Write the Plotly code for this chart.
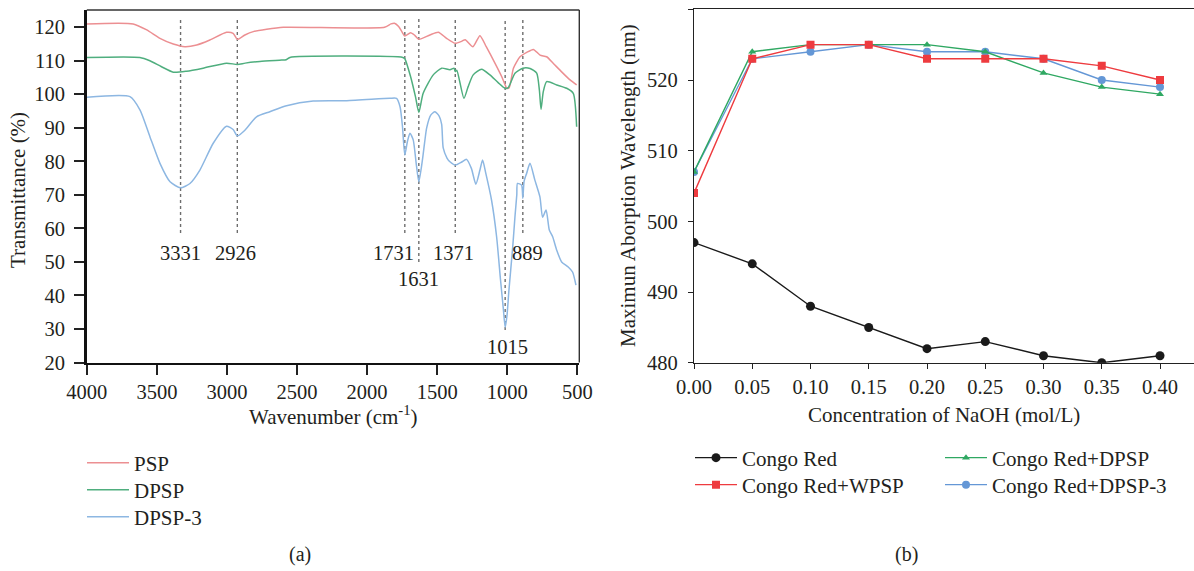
import plotly.graph_objects as go

# ---------------- (a) FTIR spectra ----------------
psp_wn = [4000, 3669, 3572, 3478, 3383, 3300, 3216, 3122, 3003, 2956, 2926, 2872, 2812, 2717,
          2598, 1876, 1830, 1805, 1775, 1752, 1731, 1690, 1660, 1631, 1552, 1492, 1433, 1371,
          1326, 1300, 1245, 1195, 1150, 1088, 1040, 1015, 1004, 986, 956, 909, 861, 814, 766,
          719, 671, 612, 552, 505]
psp_t = [121.0, 121.0, 119.2, 116.7, 115.0, 114.2, 114.7, 116.2, 118.5, 118.2, 116.4, 117.7, 118.7,
         119.4, 120.0, 120.0, 121.0, 121.2, 120.2, 118.7, 117.4, 118.4, 117.6, 116.4, 117.7, 118.5,
         116.7, 115.2, 115.8, 116.3, 114.2, 117.5, 114.2, 109.3, 105.3, 102.8, 101.8, 102.0, 107.8,
         111.2, 112.5, 113.4, 111.7, 111.2, 109.2, 106.7, 104.3, 102.8]

dpsp_wn = [4000, 3621, 3550, 3470, 3383, 3288, 3170, 3003, 2926, 2870, 2765, 2610, 2578, 2551,
           1745, 1731, 1690, 1655, 1631, 1600, 1528, 1468, 1409, 1380, 1371, 1360, 1309, 1279,
           1243, 1183, 1124, 1065, 1016, 993, 945, 889, 837, 790, 771, 759, 743, 719, 647, 576,
           529, 505]
dpsp_t = [111.0, 111.0, 110.0, 108.3, 106.6, 106.9, 107.8, 109.3, 108.9, 109.3, 109.8, 110.2, 110.3,
          111.0, 111.0, 110.6, 105.3, 99.3, 94.6, 100.3, 105.8, 107.8, 107.3, 107.8, 106.8, 107.2,
          98.8, 102.3, 105.8, 107.5, 105.8, 103.5, 101.8, 102.0, 106.3, 107.8, 107.7, 106.3, 101.3,
          95.5, 100.8, 103.8, 102.8, 101.8, 100.3, 90.3]

dpsp3_wn = [4000, 3692, 3620, 3549, 3478, 3406, 3331, 3264, 3193, 3098, 3003, 2956, 2926, 2872,
            2789, 2694, 2575, 2385, 2146, 1838, 1790, 1765, 1748, 1731, 1712, 1694, 1671, 1650,
            1631, 1605, 1590, 1575, 1546, 1516, 1486, 1468, 1457, 1430, 1409, 1371, 1325, 1291,
            1256, 1224, 1195, 1176, 1153, 1112, 1076, 1048, 1028, 1015, 1002, 988, 961, 945, 932,
            927, 898, 889, 880, 862, 838, 803, 767, 748, 723, 700, 676, 647, 612, 565, 534, 510]
dpsp3_t = [99.1, 99.3, 95.3, 87.3, 79.4, 73.9, 72.1, 73.4, 77.4, 85.4, 90.5, 89.5, 87.6, 89.3,
           93.3, 94.8, 96.6, 98.0, 98.1, 98.8, 98.8, 96.3, 90.5, 81.9, 86.0, 88.4, 86.4, 79.5,
           73.9, 80.5, 85.5, 90.0, 93.8, 94.8, 93.5, 91.0, 84.0, 81.0, 79.9, 78.9, 79.8, 80.6,
           77.9, 73.2, 77.4, 80.4, 76.4, 68.4, 57.5, 44.6, 36.0, 30.5, 34.0, 41.6, 54.5, 63.5,
           70.0, 73.4, 72.9, 69.0, 74.0, 76.4, 79.4, 74.4, 69.4, 63.3, 65.5, 59.5, 57.5, 53.5,
           50.0, 48.5, 47.0, 43.1]

peak_wn = [3331, 2926, 1731, 1631, 1371, 1015, 889]

# ---------------- (b) Congo red test ----------------
naoh = [0.00, 0.05, 0.10, 0.15, 0.20, 0.25, 0.30, 0.35, 0.40]
cr = [497, 494, 488, 485, 482, 483, 481, 480, 481]
cr_wpsp = [504, 523, 525, 525, 523, 523, 523, 522, 520]
cr_dpsp = [507, 524, 525, 525, 525, 524, 521, 519, 518]
cr_dpsp3 = [507, 523, 524, 525, 524, 524, 523, 520, 519]

FONT = "Liberation Serif"
TXT = "#231f20"
W, H = 1194, 571


def px_x(p):
    return p / W


def px_y(p):
    return 1 - p / H


fig = go.Figure()

# each legend entry sits in its own legend box so rows can be spaced freely
spec_style = [("PSP", psp_wn, psp_t, "#ec8f92", "legend"),
              ("DPSP", dpsp_wn, dpsp_t, "#4fae7e", "legend4"),
              ("DPSP-3", dpsp3_wn, dpsp3_t, "#8db7e2", "legend5")]
for name, xs, ys, col, leg in spec_style:
    fig.add_trace(go.Scatter(x=xs, y=ys, name=name, mode="lines",
                             line=dict(color=col, width=1.5, shape="spline", smoothing=0.6),
                             xaxis="x", yaxis="y", legend=leg))

# dotted guide lines and peak labels
line_span = {3331: 58.6, 2926: 58.6, 1731: 58.6, 1631: 50.0, 1371: 58.6, 1015: 29.7, 889: 58.6}
label_pos = {3331: (52.6, 0), 2926: (52.6, -2), 1731: (52.6, -11), 1631: (45.0, 0),
             1371: (52.6, -2), 1015: (24.7, 2), 889: (52.6, 5)}
for wn in peak_wn:
    fig.add_shape(type="line", xref="x", yref="y", x0=wn, x1=wn, y0=line_span[wn], y1=122.8,
                  line=dict(color="#6d6d6d", width=1.4, dash="dot"), layer="below")
    ly, xs = label_pos[wn]
    fig.add_annotation(x=wn, y=ly, xref="x", yref="y", text=str(wn), showarrow=False,
                       xshift=xs, xanchor="center", yanchor="middle",
                       font=dict(family=FONT, size=20.5, color=TXT))

# Congo red curves
cr_style = [("Congo Red", cr, "#1a1a1a", "circle", 9, "legend2"),
            ("Congo Red+DPSP-3", cr_dpsp3, "#6497d6", "circle", 8, "legend7"),
            ("Congo Red+DPSP", cr_dpsp, "#2fa862", "triangle-up", 7, "legend3"),
            ("Congo Red+WPSP", cr_wpsp, "#ee3b3f", "square", 8, "legend6")]
for name, ys, col, sym, sz, leg in cr_style:
    fig.add_trace(go.Scatter(x=naoh, y=ys, name=name, mode="lines+markers",
                             line=dict(color=col, width=1.4),
                             marker=dict(color=col, symbol=sym, size=sz),
                             xaxis="x2", yaxis="y2", legend=leg))

# plot-area geometry (pixels)
L_LEFT, L_RIGHT, L_TOP, L_BOT = 86.8, 579.3, 10.0, 362.5
R_LEFT, R_RIGHT, R_TOP, R_BOT = 694.0, 1194.0, 9.3, 362.8

tickfont = dict(family=FONT, size=20.5, color=TXT)


def legend_box(x, y):
    return dict(x=px_x(x), y=px_y(y), xanchor="left", yanchor="middle",
                font=dict(family=FONT, size=21, color=TXT), bgcolor="rgba(0,0,0,0)",
                borderwidth=0, tracegroupgap=0, itemwidth=42)


fig.update_layout(
    template="none",
    width=W, height=H,
    margin=dict(l=0, r=0, t=0, b=0, pad=0, autoexpand=False),
    paper_bgcolor="white", plot_bgcolor="white",
    font=dict(family=FONT, color=TXT),
    xaxis=dict(domain=[px_x(L_LEFT), px_x(L_RIGHT)], range=[4000, 486],
               tickvals=[4000, 3500, 3000, 2500, 2000, 1500, 1000, 500],
               ticks="outside", ticklen=10, tickwidth=1.5, tickcolor="#222",
               showline=True, linewidth=2, linecolor="#111", showgrid=False,
               zeroline=False, tickfont=tickfont, anchor="y", automargin=False),
    yaxis=dict(domain=[px_y(L_BOT), px_y(L_TOP)], range=[20, 125.15],
               tickvals=list(range(20, 121, 10)),
               ticks="outside", ticklen=10, tickwidth=1.5, tickcolor="#222",
               ticklabelstandoff=5,
               showline=True, linewidth=2.5, linecolor="#111", showgrid=False,
               zeroline=False, tickfont=tickfont, anchor="x", automargin=False),
    xaxis2=dict(domain=[px_x(R_LEFT), px_x(R_RIGHT)],
                range=[0, (R_RIGHT - R_LEFT) / 1165.0],
                tickvals=naoh, tickformat=".2f",
                ticks="outside", ticklen=5, tickwidth=1, tickcolor="#222",
                showline=True, linewidth=1.2, linecolor="#222", mirror=True, showgrid=False,
                zeroline=False, tickfont=tickfont, anchor="y2", automargin=False),
    yaxis2=dict(domain=[px_y(R_BOT), px_y(R_TOP)], range=[480, 530],
                tickvals=[480, 490, 500, 510, 520, 530],
                ticks="outside", ticklen=5, tickwidth=1, tickcolor="#222",
                ticklabelstandoff=6,
                showline=True, linewidth=1.2, linecolor="#222", showgrid=False,
                zeroline=False, tickfont=tickfont, anchor="x2", automargin=False),
    legend=legend_box(82, 463),
    legend4=legend_box(82, 490),
    legend5=legend_box(82, 517),
    legend2=legend_box(690, 458),
    legend6=legend_box(690, 485),
    legend3=legend_box(940, 458),
    legend7=legend_box(940, 485),
    showlegend=True,
)

# thin frame on the top and right of the spectra panel
fig.add_shape(type="line", xref="x domain", yref="y domain", x0=0, x1=1, y0=1, y1=1,
              line=dict(color="#333", width=1.4))
fig.add_shape(type="line", xref="x domain", yref="y domain", x0=1, x1=1, y0=0, y1=1,
              line=dict(color="#333", width=1.4))


def caption(x, y, text, angle=0, size=21):
    fig.add_annotation(x=px_x(x), y=px_y(y), xref="paper", yref="paper", text=text,
                       textangle=angle, showarrow=False, xanchor="center", yanchor="middle",
                       font=dict(family=FONT, size=size, color=TXT))


caption(18, 190, "Transmittance (%)", angle=-90)
caption((L_LEFT + L_RIGHT) / 2, 415, "Wavenumber (cm<sup>-1</sup>)")
caption(628, 186, "Maximun Aborption Wavelength (nm)", angle=-90)
caption(944, 415, "Concentration of NaOH (mol/L)")
caption(300, 554, "(a)", size=20)
caption(906, 554, "(b)", size=20)

fig.write_html("out.html")
